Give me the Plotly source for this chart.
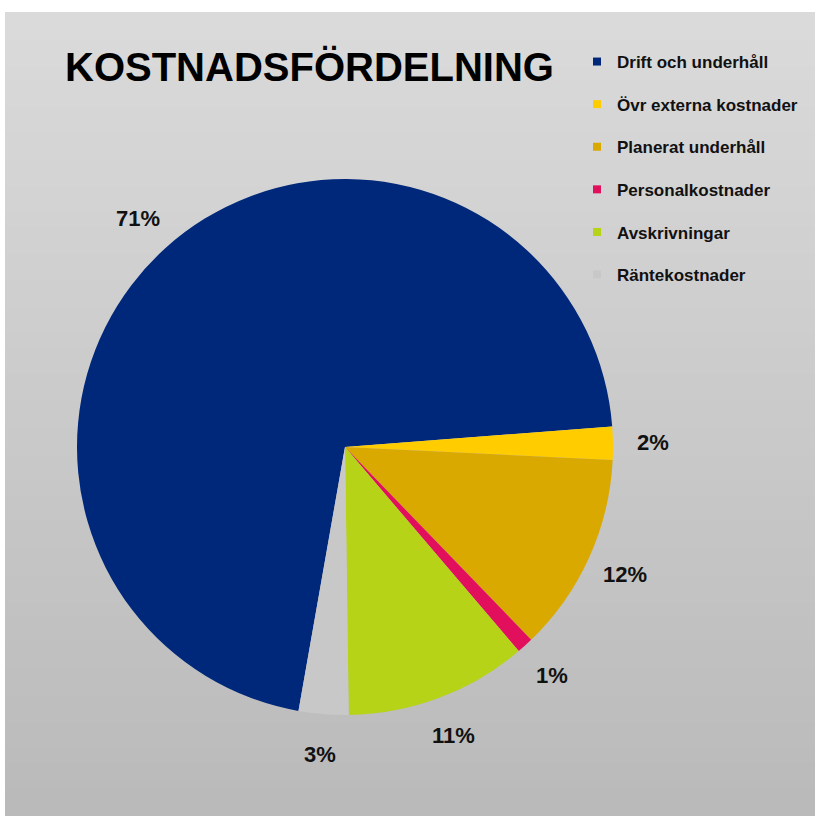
import math
import plotly.graph_objects as go

labels = ["Drift och underhåll", "Övr externa kostnader", "Planerat underhåll",
          "Personalkostnader", "Avskrivningar", "Räntekostnader"]
values = [71, 2, 12, 1, 11, 3]
colors = ["#00287A", "#FFCC00", "#DAA900", "#E2105C", "#B6D317", "#C8C8C8"]
title_text = "KOSTNADSFÖRDELNING"

W, H = 815, 816
FONT = "Liberation Sans, Arial, sans-serif"
ROTATION = 190
DOM_X = [77 / W, 613 / W]
DOM_Y = [1 - 715 / H, 1 - 179 / H]

fig = go.Figure()

fig.add_trace(go.Pie(
    labels=labels, values=values, sort=False, direction="clockwise",
    rotation=ROTATION, marker=dict(colors=colors, line=dict(width=0)),
    textinfo="none", showlegend=False, hoverinfo="label+percent",
    domain=dict(x=DOM_X, y=DOM_Y),
))

for i, (lab, col) in enumerate(zip(labels, colors)):
    fig.add_trace(go.Scatter(
        x=[None], y=[None], mode="markers", name=lab, legendgroup=f"g{i}",
        marker=dict(symbol="square", size=8, color=col), showlegend=True,
    ))

# percentage labels placed outside the slices, derived from the values
cx = (DOM_X[0] + DOM_X[1]) / 2 * W
cy = (1 - (DOM_Y[0] + DOM_Y[1]) / 2) * H
radius = (DOM_X[1] - DOM_X[0]) * W / 2
label_r = radius + 40
total = sum(values)
annotations = []
acc = 0.0
for v in values:
    mid = ROTATION + (acc + v / 2) / total * 360
    acc += v
    a = math.radians(mid)
    px = cx + label_r * math.sin(a)
    py = cy - label_r * math.cos(a)
    annotations.append(dict(
        text=f"{round(v / total * 100)}%", x=px / W, y=1 - py / H,
        xref="paper", yref="paper", xanchor="center", yanchor="middle",
        showarrow=False, font=dict(family=FONT, size=22, color="#111111", weight="bold")))

annotations.append(dict(text=title_text, x=63 / W, y=1 - 67 / H, xref="paper", yref="paper",
                        xanchor="left", yanchor="middle", showarrow=False,
                        font=dict(family=FONT, size=40, color="#000000", weight="bold")))

# gradient background panel
shapes = []
n = 60
top_frac = 1 - 12 / H
for k in range(n):
    y0 = top_frac * k / n
    y1 = top_frac * (k + 1) / n
    t = (k + 0.5) / n  # 0 bottom, 1 top
    c = int(186 + (219 - 186) * t)
    shapes.append(dict(type="rect", xref="paper", yref="paper", x0=5 / W, x1=1,
                       y0=y0, y1=min(y1 + 0.001, top_frac), fillcolor=f"rgb({c},{c},{c})",
                       line=dict(width=0), layer="below"))

fig.update_layout(
    width=W, height=H, margin=dict(l=0, r=0, t=0, b=0),
    paper_bgcolor="white", plot_bgcolor="rgba(0,0,0,0)",
    shapes=shapes, annotations=annotations,
    xaxis=dict(visible=False), yaxis=dict(visible=False),
    legend=dict(x=577 / W, y=1 - 44 / H, xanchor="left", yanchor="top",
                bgcolor="rgba(0,0,0,0)", tracegroupgap=17.5,
                font=dict(family=FONT, size=17, color="#111111", weight="bold")),
)

fig.write_html("out.html", config={"displayModeBar": False},
               post_script="document.body.style.margin='0';")
